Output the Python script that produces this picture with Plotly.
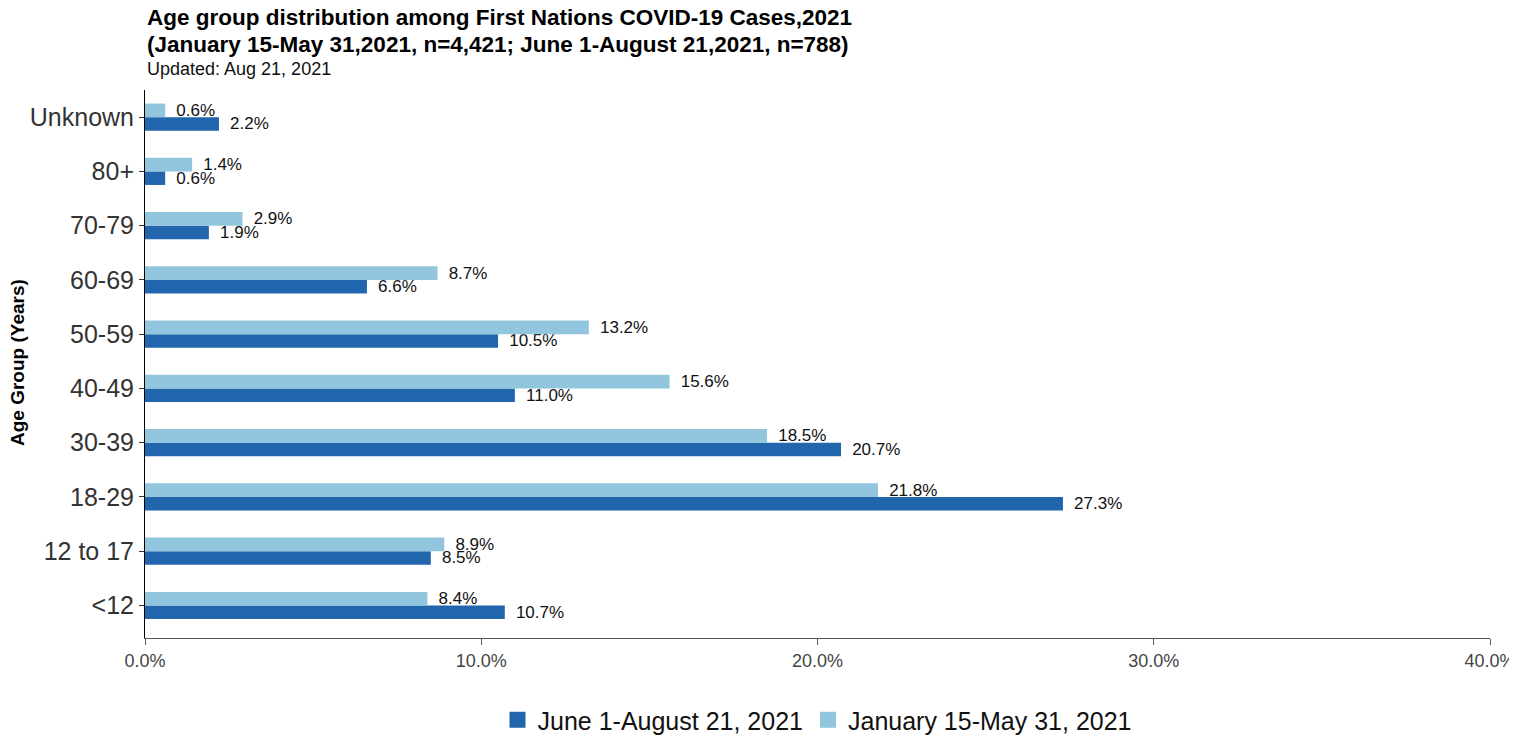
import plotly.graph_objects as go

categories = ["<12", "12 to 17", "18-29", "30-39", "40-49", "50-59", "60-69", "70-79", "80+", "Unknown"]
june_aug = [10.7, 8.5, 27.3, 20.7, 11.0, 10.5, 6.6, 1.9, 0.6, 2.2]
jan_may = [8.4, 8.9, 21.8, 18.5, 15.6, 13.2, 8.7, 2.9, 1.4, 0.6]
series_names = ["June 1-August 21, 2021", "January 15-May 31, 2021"]
x_ticks = [0, 10, 20, 30, 40]
x_tick_labels = ["0.0%", "10.0%", "20.0%", "30.0%", "40.0%"]

FONT = "Arial, Liberation Sans, sans-serif"
DARK, LIGHT = "#2166ac", "#92c5de"
OFF = 8  # default page body margin
W, H = 1517 - OFF, 738 - OFF
PL, PR, PT, PB = 145 - OFF, 1490 - OFF, 90 - OFF, 638 - OFF
ML, MR, MT, MB = PL, W - PR, PT, H - PB
PH = PB - PT
PW = PR - PL


def ypx(px):
    return (PB - (px - OFF)) / PH


def xpx(px):
    return ((px - OFF) - PL) / PW


fig = go.Figure()
for vals, name, col in [(june_aug, series_names[0], DARK), (jan_may, series_names[1], LIGHT)]:
    fig.add_trace(go.Bar(
        y=categories, x=vals, orientation="h", name=name, showlegend=False,
        marker=dict(color=col, line=dict(width=0)),
        texttemplate="\u00a0\u2009%{x:.1f}%", textposition="outside", cliponaxis=False,
        constraintext="none",
        textfont=dict(size=17, color="#111111", family=FONT),
    ))
for name, col in [(series_names[0], DARK), (series_names[1], LIGHT)]:
    fig.add_trace(go.Scatter(
        x=[None], y=[None], mode="markers", name=name, showlegend=True,
        marker=dict(symbol="square", size=16, color=col, line=dict(width=0)),
    ))

fig.update_layout(
    width=W, height=H,
    margin=dict(l=ML, r=MR, t=MT, b=MB, autoexpand=False),
    barmode="group", bargap=0.5, bargroupgap=0,
    plot_bgcolor="white", paper_bgcolor="white",
    font=dict(family=FONT, color="#333333"),
    showlegend=True,
    legend=dict(orientation="h", x=xpx(817), xanchor="center", y=ypx(720), yanchor="middle",
                font=dict(size=25, color="#111111", family=FONT), traceorder="normal",
                itemwidth=30, tracegroupgap=0),
    xaxis=dict(range=[0, 40], tickvals=x_ticks, ticktext=x_tick_labels,
               showgrid=False, zeroline=False, showline=True, linecolor="#555555", linewidth=1,
               ticks="outside", ticklen=6, tickcolor="#555555", ticklabeloverflow="allow",
               tickfont=dict(size=18, color="#444444", family=FONT)),
    yaxis=dict(type="category", categoryorder="array", categoryarray=categories,
               range=[-0.6, 9.5], showgrid=False, zeroline=False,
               showline=True, linecolor="#000000", linewidth=1,
               ticks="outside", ticklen=5, tickcolor="#333333",
               tickfont=dict(size=25, color="#333333", family=FONT)),
    annotations=[
        dict(text="<b>Age group distribution among First Nations COVID-19 Cases,2021</b>",
             xref="paper", yref="paper", x=xpx(145), y=ypx(18), xanchor="left", yanchor="middle",
             showarrow=False, font=dict(size=22.5, color="#000000", family=FONT)),
        dict(text="<b>(January 15-May 31,2021, n=4,421; June 1-August 21,2021, n=788)</b>",
             xref="paper", yref="paper", x=xpx(145), y=ypx(44), xanchor="left", yanchor="middle",
             showarrow=False, font=dict(size=22.5, color="#000000", family=FONT)),
        dict(text="Updated: Aug 21, 2021",
             xref="paper", yref="paper", x=xpx(145), y=ypx(69), xanchor="left", yanchor="middle",
             showarrow=False, font=dict(size=18, color="#111111", family=FONT)),
        dict(text="<b>Age Group (Years)</b>", xref="paper", yref="paper",
             x=xpx(17), y=ypx(363), xanchor="center", yanchor="middle",
             textangle=-90, showarrow=False, font=dict(size=19, color="#000000", family=FONT)),
    ],
)

fig.write_html("out.html")
